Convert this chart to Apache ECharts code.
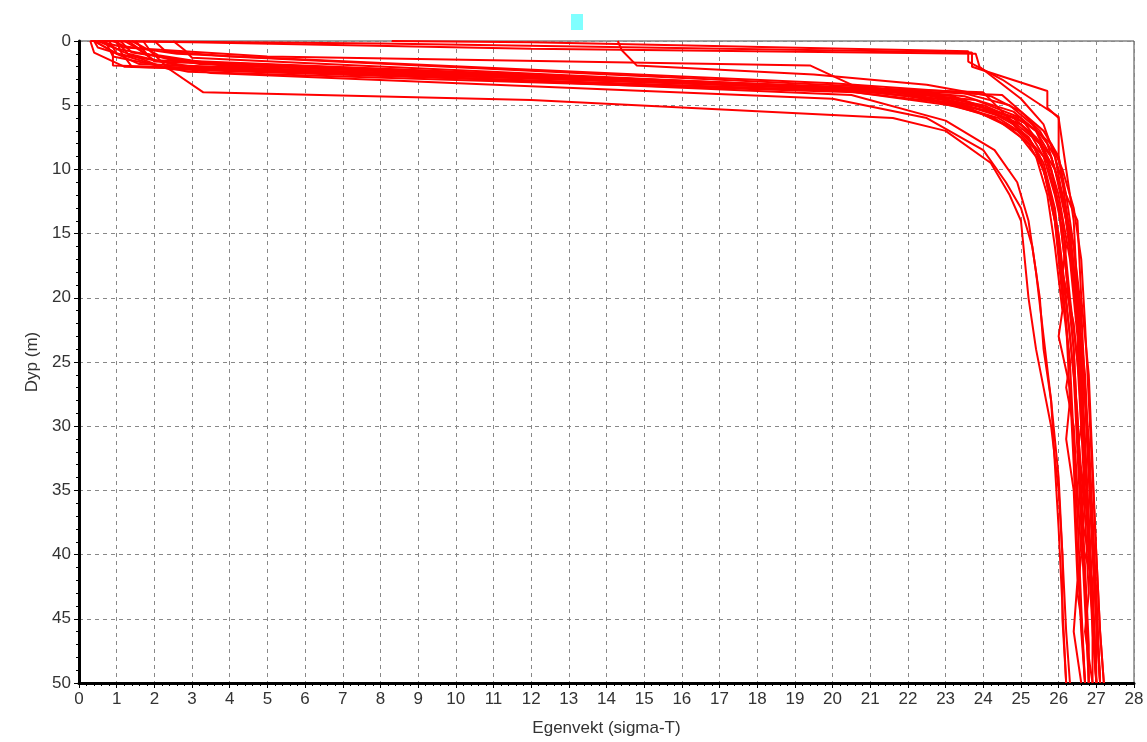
<!DOCTYPE html>
<html><head><meta charset="utf-8">
<script src="https://cdn.jsdelivr.net/npm/echarts@6/dist/echarts.min.js"></script>
<style>html,body{margin:0;padding:0;background:#fff}#c{width:1147px;height:742px}</style>
</head><body><div id="c"></div>
<script>
// Tick settings
const xMin = 0, xMax = 28, xStep = 1;
const yMin = 0, yMax = 50, yStep = 5;
const xTitle = 'Egenvekt (sigma-T)';
const yTitle = 'Dyp (m)';
const legendName = ' ';

// Profiles: [sigma-T, depth (m)]
const p01 = [[0.3,0],[0.4,0.9],[1.2,2],[20.2,3.6],[22.5,4.2],[24.0,5.2],[24.8,6.5],[25.3,8],[25.6,10],[25.9,14],[26.0,17],[26.1,20],[26.3,25],[26.2,27],[26.4,30],[26.5,35],[26.6,40],[26.5,43],[26.6,45],[26.7,50]];
const p02 = [[0.8,0],[1.0,1],[3.0,2],[20.8,3.8],[23.8,4.6],[25.0,6],[25.5,8],[25.8,10],[26.1,14],[26.3,20],[26.5,25],[26.6,30],[26.5,32],[26.7,35],[26.8,40],[26.9,45],[27.0,50]];
const p03 = [[1.5,0],[1.8,1],[2.5,1.5],[21.0,3.7],[24.0,4],[24.5,5.5],[25.0,7],[25.6,9],[25.9,12],[26.2,16],[26.1,18],[26.4,22],[26.6,28],[26.7,34],[26.6,37],[26.8,40],[26.9,46],[27.0,50]];
const p04 = [[0.5,0],[1.3,1],[2.2,2],[19.8,3.6],[22.0,4.3],[23.5,5],[24.6,6],[25.2,7.5],[25.5,9],[25.8,12],[26.0,16],[26.2,22],[26.3,28],[26.2,31],[26.4,35],[26.5,42],[26.4,46],[26.6,50]];
const p05 = [[2.0,0],[2.3,0.8],[4.0,1.2],[20.5,3.5],[23.5,4.3],[24.8,5.5],[25.4,7],[25.8,9],[26.1,12],[26.4,16],[26.6,22],[26.5,24],[26.7,28],[26.8,34],[26.9,40],[27.0,45],[27.1,50]];
const p06 = [[0.6,0],[1.0,0.6],[3.2,1.8],[21.5,3.9],[23.8,5],[24.9,6],[25.4,7],[25.7,9],[26.0,12],[26.3,17],[26.5,23],[26.6,30],[26.7,36],[26.6,39],[26.9,42],[27.0,50]];
const p07 = [[1.2,0],[1.5,0.5],[2.0,1.5],[19.5,3.5],[21.8,4.0],[23.2,5],[24.3,6],[25.0,7.5],[25.4,9],[25.7,12],[25.9,16],[26.1,21],[26.0,23],[26.3,27],[26.4,33],[26.5,40],[26.6,46],[26.7,50]];
const p08 = [[0.4,0],[1.0,1.0],[1.6,1.8],[20.0,3.7],[22.8,4.5],[24.2,5.5],[25.0,6.5],[25.5,8],[25.8,10],[26.0,13],[26.2,18],[26.4,24],[26.5,30],[26.7,37],[26.8,43],[26.7,46],[26.9,50]];
const p09 = [[2.5,0],[2.8,0.7],[3.0,1.3],[21.2,3.8],[24.5,4.2],[25.0,5.5],[25.6,7],[26.0,9],[26.2,12],[26.4,16],[26.6,21],[26.7,27],[26.8,33],[26.9,39],[27.0,45],[27.1,50]];
const p10 = [[1.0,0],[1.1,0.8],[1.4,2.0],[20.3,3.9],[23.0,4.8],[24.4,6],[25.2,7.5],[25.6,9.5],[25.9,13],[26.1,18],[26.3,23],[26.5,29],[26.6,35],[26.7,41],[26.8,47],[26.8,50]];
const p11 = [[0.9,0],[1.2,0.4],[2.6,1.0],[20.0,3.3],[23.4,4.0],[24.7,5],[25.3,6.5],[25.7,8],[26.0,11],[26.3,15],[26.5,20],[26.6,26],[26.7,32],[26.8,38],[26.9,44],[27.0,50]];
const p12 = [[1.7,0],[1.9,0.8],[2.4,2.2],[21.7,4.0],[24.2,5.5],[25.0,6.5],[25.5,8],[25.9,10],[26.2,14],[26.4,19],[26.6,25],[26.8,31],[26.9,37],[27.0,43],[27.1,50]];
const p13 = [[0.7,0],[0.9,1.2],[2.9,2.4],[20.6,4.0],[23.6,5.2],[24.6,6.5],[25.2,8],[25.6,10],[25.9,14],[26.1,19],[26.3,25],[26.4,31],[26.5,37],[26.6,44],[26.7,50]];
const p14 = [[1.1,0],[1.4,0.9],[3.8,1.9],[21.9,3.8],[24.0,5.0],[25.2,6.5],[25.8,8],[26.1,10],[26.4,13],[26.6,17],[26.7,22],[26.8,28],[26.9,34],[27.0,40],[27.1,46],[27.2,50]];
const p15 = [[0.4,0],[0.9,0.8],[0.9,1.9],[20.1,3.6],[22.3,4.4],[23.9,5.6],[24.9,7],[25.4,8.5],[25.7,11],[26.0,15],[26.2,20],[26.4,26],[26.5,32],[26.6,38],[26.7,44],[26.8,50]];
const p16 = [[1.3,0],[1.6,0.6],[2.0,1.6],[20.9,3.7],[23.2,4.3],[24.8,6],[25.4,7.5],[25.8,9],[26.1,12],[26.3,16],[26.5,21],[26.7,27],[26.8,33],[26.9,39],[27.0,45],[27.0,50]];
const p17 = [[0.5,0],[8.0,0.2],[23.7,0.9],[23.7,2.0],[25.7,3.9],[25.7,5.2],[26.0,6.0],[26.1,8],[26.2,10],[26.4,14],[26.5,20],[26.7,26],[26.8,32],[26.9,38],[27.0,44],[27.1,50]];
const p18 = [[8.3,0],[12.0,0.1],[23.6,0.8],[23.6,1.6],[24.5,3],[26.0,5.9],[26.0,9],[26.1,11],[26.3,15],[26.5,20],[26.6,25],[26.7,31],[26.8,37],[26.9,43],[27.0,50]];
const p19 = [[0.3,0],[3.0,0.1],[12.0,0.6],[23.8,1.0],[23.9,2.0],[25.0,4.5],[25.6,6.5],[25.9,9],[26.2,12],[26.5,14],[26.6,20],[26.8,26],[26.9,33],[27.0,40],[27.1,46],[27.2,50]];
const p20 = [[14.3,0],[14.4,0.7],[14.8,1.9],[19.5,2.6],[22.5,3.4],[24.2,4.3],[25.0,5.5],[25.5,7],[25.9,9],[26.1,12],[26.3,16],[26.5,21],[26.6,27],[26.7,33],[26.8,39],[26.9,45],[26.9,50]];
const p21 = [[0.5,0],[1.2,0.5],[5.0,1.2],[19.4,1.9],[20.5,3.4],[23.3,4.5],[24.6,5.8],[25.3,7.5],[25.7,9.5],[26.0,13],[26.2,18],[26.4,24],[26.5,30],[26.6,36],[26.7,42],[26.8,50]];
const p22 = [[0.4,0],[0.5,0.5],[2.4,2.2],[3.3,4.0],[12.0,4.6],[21.6,6.0],[23.0,7],[24.2,9.5],[24.7,12],[25.0,14],[25.1,17],[25.2,20],[25.4,24],[25.6,27],[25.8,30],[26.0,35],[26.1,40],[26.1,45],[26.2,50]];
const p23 = [[1.0,0],[1.3,1],[3.5,2.5],[20.0,4.5],[22.5,6],[24.0,8.5],[24.6,11],[25.0,13],[25.3,16],[25.5,20],[25.6,24],[25.8,28],[25.9,33],[26.0,38],[26.1,44],[26.2,50]];
const p24 = [[1.4,0],[2.1,1.1],[4.5,2.2],[20.5,4.2],[23.0,6.2],[24.3,8.5],[24.9,11],[25.2,14],[25.4,18],[25.6,23],[25.8,28],[26.0,34],[26.1,40],[26.2,46],[26.3,50]];

const profiles = [p01,p02,p03,p04,p05,p06,p07,p08,p09,p10,p11,p12,p13,p14,p15,p16,p17,p18,p19,p20,p21,p22,p23,p24];

const chart = echarts.init(document.getElementById('c'));
const font = '"Liberation Sans", Arial, sans-serif';
const series = profiles.map((p, i) => ({
  type: 'line', name: 'Profil ' + (i + 1), data: p,
  showSymbol: false, symbol: 'none',
  lineStyle: { color: '#ff0000', width: 2 }, itemStyle: { color: '#ff0000' },
  silent: true
}));
series.push({ type: 'line', name: legendName, data: [], itemStyle: { color: '#80ffff' }, lineStyle: { color: '#80ffff' } });

chart.setOption({
  animation: false,
  backgroundColor: '#ffffff',
  legend: {
    data: [{ name: legendName, icon: 'rect' }],
    top: 14, left: 571, itemWidth: 12, itemHeight: 16, itemGap: 0, padding: 0,
    textStyle: { fontSize: 1 }, selectedMode: false
  },
  grid: { left: 79, right: 13, top: 41, bottom: 55, show: true, borderColor: '#444', borderWidth: 1 },
  xAxis: {
    type: 'value', min: xMin, max: xMax, interval: xStep,
    name: xTitle, nameLocation: 'middle', nameGap: 37,
    nameTextStyle: { fontFamily: font, fontSize: 17, color: '#333' },
    axisLine: { onZero: false, lineStyle: { color: '#000', width: 3 } },
    axisTick: { show: true, length: 5, lineStyle: { color: '#000' } },
    minorTick: { show: true, splitNumber: 5, length: 3, lineStyle: { color: '#000' } },
    axisLabel: { fontFamily: font, fontSize: 17, color: '#333', margin: 8 },
    splitLine: { show: true, lineStyle: { color: '#888', type: [4, 4], width: 1 } }
  },
  yAxis: {
    type: 'value', inverse: true, min: yMin, max: yMax, interval: yStep,
    name: yTitle, nameLocation: 'middle', nameGap: 36, nameRotate: 90,
    nameTextStyle: { fontFamily: font, fontSize: 17, color: '#333' },
    axisLine: { onZero: false, lineStyle: { color: '#000', width: 3 } },
    axisTick: { show: true, length: 5, lineStyle: { color: '#000' } },
    minorTick: { show: true, splitNumber: 5, length: 3, lineStyle: { color: '#000' } },
    axisLabel: { fontFamily: font, fontSize: 17, color: '#333', margin: 8 },
    splitLine: { show: true, lineStyle: { color: '#888', type: [4, 4], width: 1 } }
  },
  series: series
});
</script></body></html>
